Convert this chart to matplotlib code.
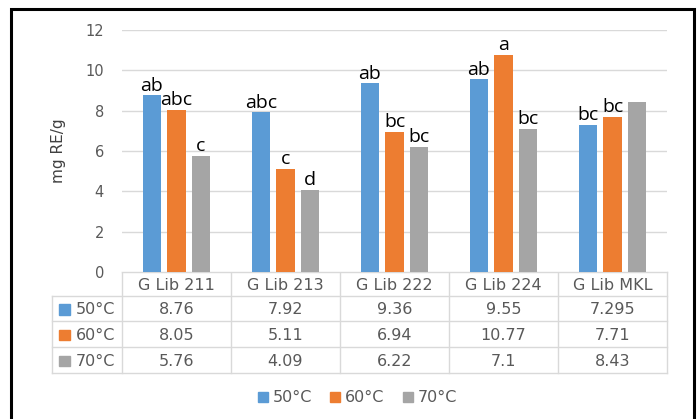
import matplotlib
matplotlib.use("Agg")
import matplotlib.pyplot as plt
from matplotlib.patches import Rectangle
import numpy as np

categories = ["G Lib 211", "G Lib 213", "G Lib 222", "G Lib 224", "G Lib MKL"]
series_names = ["50°C", "60°C", "70°C"]
v50 = [8.76, 7.92, 9.36, 9.55, 7.295]
v60 = [8.05, 5.11, 6.94, 10.77, 7.71]
v70 = [5.76, 4.09, 6.22, 7.1, 8.43]
letters50 = ["ab", "abc", "ab", "ab", "bc"]
letters60 = ["abc", "c", "bc", "a", "bc"]
letters70 = ["c", "d", "bc", "bc", ""]
y_ticks = [0, 2, 4, 6, 8, 10, 12]
y_label = "mg RE/g"

colors = ["#5B9BD5", "#ED7D31", "#A5A5A5"]
txt_gray = "#595959"
grid_c = "#D9D9D9"

W, H = 700, 419
fig = plt.figure(figsize=(7, 4.19), dpi=100)

# plot area in pixel coords
L, R, T, B = 122, 667, 30, 272
ax = fig.add_axes([L / W, 1 - B / H, (R - L) / W, (B - T) / H])
x = np.arange(len(categories))
bw = 0.168
step = 0.225
series = [v50, v60, v70]
lets = [letters50, letters60, letters70]
for i, (vals, col, lab) in enumerate(zip(series, colors, lets)):
    bars = ax.bar(x + (i - 1) * step, vals, width=bw, color=col, label=series_names[i], zorder=3)
    for b, t in zip(bars, lab):
        if t:
            ax.annotate(t, (b.get_x() + b.get_width() / 2, b.get_height()),
                        xytext=(0, 0.5), textcoords="offset points",
                        ha="center", va="bottom", fontsize=14, color="black",
                        family="Open Sans", zorder=4)
ax.set_xlim(-0.5, len(categories) - 0.5)
ax.set_ylim(0, 12)
ax.set_yticks(y_ticks)
ax.set_yticklabels([str(t) for t in y_ticks], fontsize=10.5, color=txt_gray)
ax.tick_params(axis="y", length=0, pad=13)
ax.set_xticks([])
ax.grid(axis="y", color=grid_c, lw=1, zorder=0)
for s in ax.spines.values():
    s.set_visible(False)
ax.set_ylabel(y_label, fontsize=11, color="#404040", labelpad=14)

# overlay in pixel coordinates for the data table, legend, border
ov = fig.add_axes([0, 0, 1, 1], zorder=-1)
ov.set_xlim(0, W)
ov.set_ylim(H, 0)
ov.axis("off")
ov.patch.set_alpha(0)

col_w = (R - L) / len(categories)
row_edges = [272, 296, 321, 347, 373]
tl = 52
lc = grid_c
# horizontal lines
ov.plot([L, R], [row_edges[0]] * 2, color=lc, lw=1)
for y in row_edges[1:]:
    ov.plot([tl, R], [y, y], color=lc, lw=1)
# vertical lines
ov.plot([tl, tl], [row_edges[1], row_edges[-1]], color=lc, lw=1)
for k in range(len(categories) + 1):
    xx = L + k * col_w
    ov.plot([xx, xx], [row_edges[0], row_edges[-1]], color=lc, lw=1)
# header
for k, c in enumerate(categories):
    ov.text(L + (k + 0.5) * col_w, (row_edges[0] + row_edges[1]) / 2 + 1, c,
            ha="center", va="center", fontsize=11.5, color=txt_gray)
# rows
for r, (name, vals, col) in enumerate(zip(series_names, series, colors)):
    yc = (row_edges[r + 1] + row_edges[r + 2]) / 2 + 1
    ov.add_patch(Rectangle((59, yc - 5.5), 10.5, 10.5, color=col))
    ov.text(76, yc, name, ha="left", va="center", fontsize=11.5, color=txt_gray)
    for k, v in enumerate(vals):
        ov.text(L + (k + 0.5) * col_w, yc, f"{v:g}", ha="center", va="center",
                fontsize=11.5, color=txt_gray)

# bottom legend
leg_x = [258, 330, 403]
for xx, name, col in zip(leg_x, series_names, colors):
    ov.add_patch(Rectangle((xx, 392), 10, 10, color=col))
    ov.text(xx + 15, 397.5, name, ha="left", va="center", fontsize=11.5, color=txt_gray)

# outer border (bottom edge cropped)
ov.plot([11, 11, 693.5, 693.5], [H + 2, 9, 9, H + 2], color="black", lw=2.2,
        solid_joinstyle="miter", clip_on=False)

fig.savefig("out.png", dpi=100)
